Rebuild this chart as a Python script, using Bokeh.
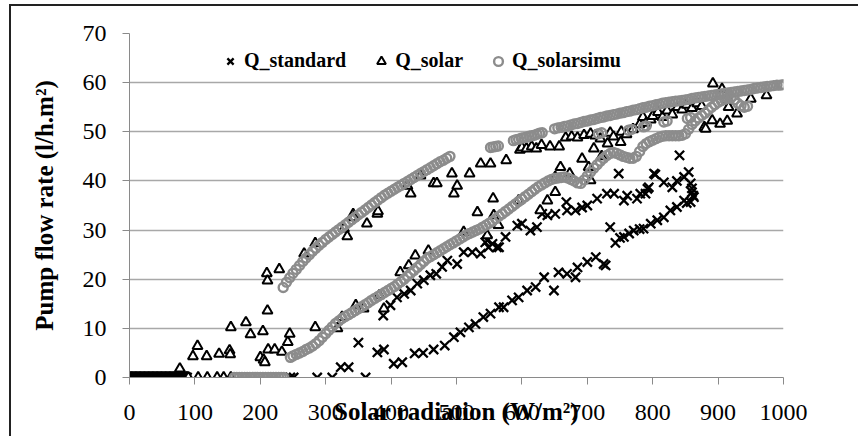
from bokeh.plotting import figure
from bokeh.models import Range1d, FixedTicker, Legend, LegendItem
from bokeh.layouts import column
from bokeh.embed import file_html
from bokeh.resources import INLINE

# ---------------- data ----------------
x_ticks = [0, 100, 200, 300, 400, 500, 600, 700, 800, 900, 1000]
y_ticks = [0, 10, 20, 30, 40, 50, 60, 70]

std_x = [0, 2, 4, 6, 8, 10, 12, 14, 16, 18, 20, 22, 24, 26, 28, 30, 32, 34, 36, 38, 40, 42,
         44, 46, 48, 50, 52, 54, 56, 58, 60, 62, 64, 66, 68, 70, 72, 74, 76, 78, 80, 82, 84, 86, 88,
         246, 251, 287, 310, 361,
         323, 335, 350, 379, 389, 404, 417, 436, 449, 465, 482, 496, 506, 519, 529, 541,
         552, 565, 572, 585, 595, 608, 621, 634, 649, 656, 669, 682, 685, 700, 713, 725,
         728, 735, 743, 750, 756, 764, 771, 780, 786, 797, 807, 817, 827, 837, 848, 852,
         858, 860, 862, 863,
         388, 399, 409, 420, 430, 440, 450, 460, 469, 478, 486, 501, 511, 524, 537, 544,
         547, 549, 555, 562, 565, 575, 593, 600, 613, 623, 631, 639, 651, 668, 669, 682,
         692, 700, 715, 730, 741, 748, 756, 761, 776, 781, 789, 792, 794, 802, 804, 817,
         830, 837, 841, 848, 855, 858, 860]
std_y = [0, 0, 0, 0, 0, 0, 0, 0, 0, 0, 0, 0, 0, 0, 0, 0, 0, 0, 0, 0, 0, 0,
         0, 0, 0, 0, 0, 0, 0, 0, 0, 0, 0, 0, 0, 0, 0, 0, 0, 0, 0, 0, 0, 0, 0,
         0, 0, 0, 0, 0,
         2.1, 2.1, 7.1, 5.1, 5.7, 2.8, 3.1, 4.9, 5.0, 5.7, 6.5, 8.2, 9.2, 10.2, 10.9, 12.3,
         13.0, 14.3, 14.3, 15.7, 16.3, 17.7, 18.4, 20.4, 17.7, 21.4, 21.1, 20.4, 22.4, 23.5, 24.5, 23.1,
         22.8, 30.6, 27.4, 28.4, 28.6, 29.3, 29.9, 30.2, 30.3, 31.3, 32.0, 32.6, 34.0, 34.7, 36.0, 35.5,
         35.7, 38.5, 37.0, 36.7,
         12.6, 14.7, 16.3, 17.0, 17.7, 19.1, 19.8, 20.8, 21.1, 22.5, 23.8, 23.1, 25.5, 25.5, 25.2, 27.5,
         27.9, 26.5, 27.2, 26.5, 26.5, 28.6, 30.9, 31.3, 29.9, 30.6, 33.3, 33.0, 33.3, 35.7, 34.0, 34.0,
         34.6, 35.0, 36.4, 37.4, 37.4, 41.5, 36.0, 37.0, 36.4, 37.4, 37.4, 38.4, 38.7, 41.5, 41.3, 39.7,
         38.7, 40.0, 45.2, 40.8, 41.8, 39.5, 37.7]

sol_x = [0, 2, 4, 6, 8, 10, 12, 14, 16, 18, 20, 22, 24, 26, 28, 30, 32, 34, 36, 38, 40, 42,
         44, 46, 48, 50, 52, 54, 56, 58, 60, 62, 64, 66, 68, 70, 72, 74, 76, 78, 80, 82, 84, 86, 88,
         90, 105, 119, 134, 144, 155,
         77, 97, 104, 118, 137, 153, 154, 155, 178, 185, 200, 204, 205, 207, 210, 211, 211,
         212, 222, 229, 233, 242, 245, 267, 284, 284, 318, 325, 328, 333, 342, 343, 346, 358,
         363, 379, 380, 382, 389, 414, 425, 427, 430, 437, 445, 457, 465, 470, 493, 496, 501,
         511, 520, 532, 537, 547, 552, 556, 557, 564, 576, 595, 597, 600, 607, 615, 622, 628,
         630, 639, 643, 651, 651, 657, 659, 667, 673, 676, 685, 692, 695, 702, 705, 705, 710,
         712, 720, 722, 731, 735, 740, 751, 752, 760, 770, 780, 785, 790, 797, 800, 808, 815,
         822, 830, 838, 845, 852, 860, 868, 875, 879, 881, 891, 892, 903, 906, 914, 916, 916,
         929, 950, 974]
sol_y = [0, 0, 0, 0, 0, 0, 0, 0, 0, 0, 0, 0, 0, 0, 0, 0, 0, 0, 0, 0, 0, 0,
         0, 0, 0, 0, 0, 0, 0, 0, 0, 0, 0, 0, 0, 0, 0, 0, 0, 0, 0, 0, 0, 0, 0,
         0, 0, 0, 0, 0, 0,
         1.8, 4.3, 6.4, 4.3, 4.8, 5.5, 4.7, 10.2, 11.2, 8.8, 4.1, 9.4, 3.6, 3.1, 21.2, 19.7, 13.6,
         5.7, 5.7, 22.0, 5.2, 7.2, 8.9, 25.2, 27.3, 10.2, 10.0, 12.3, 30.3, 28.7, 33.2, 32.6, 14.7, 14.0,
         31.3, 33.3, 33.8, 16.7, 14.0, 21.4, 39.0, 22.8, 37.4, 24.8, 41.1, 25.8, 39.5, 39.5, 41.5, 37.4, 39.0,
         29.6, 41.5, 33.6, 43.5, 28.9, 43.5, 36.4, 33.0, 31.0, 44.2, 36.0, 46.3, 46.8, 46.6, 47.0, 46.6, 34.0,
         47.3, 36.0, 47.0, 37.7, 40.8, 47.0, 42.8, 48.8, 41.5, 49.0, 48.8, 44.5, 49.3, 42.8, 40.1, 49.6, 46.6,
         49.2, 48.6, 45.0, 47.6, 49.8, 49.0, 47.9, 50.0, 49.5, 50.5, 51.5, 53.0, 51.8, 52.5, 53.2, 54.0, 53.0,
         54.3, 53.5, 55.0, 54.5, 55.5, 54.8, 55.8, 55.2, 50.9, 50.6, 52.3, 59.8, 51.6, 58.7, 52.2, 56.3, 55.0,
         53.7, 56.7, 57.4]

sim_x = [160, 164, 168, 172, 176, 180, 184, 188, 192, 196, 200, 204, 208, 212, 216, 220,
         224, 228, 232, 236,
         235, 240, 245, 250, 255, 260, 265, 270, 275, 280, 285, 290, 295, 300, 305, 310,
         315, 320, 325, 330, 335, 340, 345, 350, 355, 360, 365, 370, 375, 380, 385, 390,
         395, 400, 405, 410, 415, 420, 425, 430, 435, 440, 445, 450, 455, 460, 465, 470,
         475, 480, 485, 490,
         552, 556, 560, 564, 587, 591, 595, 599, 603, 607, 611, 615, 619, 623, 627, 631,
         650, 655, 660, 665, 670, 675, 680, 685, 690, 695, 700, 705, 710, 715, 720, 725,
         730, 735, 740, 745, 750, 755, 760, 765, 770, 775, 780, 785, 790, 795, 800, 805,
         810, 815, 820, 825, 830, 835, 840, 845, 850, 855, 860, 865, 870, 875, 880, 885,
         890, 895, 900, 905, 910, 915, 920, 925, 930, 935, 940, 945, 950, 955, 960, 965,
         970, 975, 980, 985, 990, 995, 1000,
         717, 722, 763, 768, 786, 790, 817, 822, 853, 858,
         246, 250, 255, 260, 265, 270, 275, 280, 285, 290, 295, 300, 305, 310, 315, 320,
         325, 330, 335, 340, 345, 350, 355, 360, 365, 370, 375, 380, 385, 390, 395, 400,
         405, 410, 415, 420, 425, 430, 435, 440, 445, 450, 455, 460, 465, 470, 475, 480,
         485, 490, 495, 500, 505, 510, 515, 520, 525, 530, 535, 540, 545, 550, 555, 560,
         565, 570, 575, 580, 585, 590, 595, 600, 605, 610, 615, 620, 625, 630, 635, 640,
         645, 650, 655, 660, 665, 670, 675, 680, 685, 690, 695, 700, 705, 710, 715, 720,
         725, 730, 735, 740, 745, 750, 755, 760, 765, 770, 775, 780, 785, 790, 795, 800,
         805, 810, 815, 820, 825, 830, 835, 840, 845, 850, 855, 860, 865, 870, 875, 880,
         885, 890, 895, 900, 905, 910, 915, 920, 925, 930, 935, 940, 945]
sim_y = [0, 0, 0, 0, 0, 0, 0, 0, 0, 0, 0, 0, 0, 0, 0, 0,
         0, 0, 0, 0,
         18.3, 19.4, 20.3, 21.2, 22.0, 22.8, 23.6, 24.3, 25.0, 25.7, 26.3, 26.9, 27.5, 28.1, 28.6, 29.1,
         29.6, 30.1, 30.6, 31.1, 31.6, 32.1, 32.6, 33.1, 33.6, 34.1, 34.6, 35.1, 35.6, 36.1, 36.6, 37.1,
         37.5, 37.9, 38.3, 38.7, 39.1, 39.5, 39.9, 40.3, 40.7, 41.1, 41.5, 41.9, 42.3, 42.7, 43.1, 43.5,
         43.9, 44.2, 44.6, 45.0,
         46.8, 46.9, 47.0, 47.1, 48.2, 48.4, 48.5, 48.7, 48.8, 48.9, 49.1, 49.2, 49.3, 49.5, 49.7, 49.8,
         50.6, 50.8, 50.9, 51.1, 51.2, 51.4, 51.6, 51.7, 51.9, 52.1, 52.2, 52.4, 52.5, 52.7, 52.9, 53.0,
         53.2, 53.3, 53.5, 53.6, 53.8, 53.9, 54.1, 54.2, 54.4, 54.5, 54.7, 54.9, 55.0, 55.2, 55.3, 55.5,
         55.6, 55.8, 55.9, 56.0, 56.1, 56.2, 56.3, 56.4, 56.5, 56.6, 56.8, 56.9, 57.0, 57.1, 57.2, 57.3,
         57.4, 57.5, 57.6, 57.7, 57.8, 57.9, 58.0, 58.1, 58.2, 58.3, 58.4, 58.5, 58.6, 58.8, 58.9, 59.0,
         59.1, 59.2, 59.3, 59.4, 59.5, 59.5, 59.6,
         49.6, 49.8, 50.3, 50.5, 51.0, 51.2, 52.0, 52.2, 52.7, 52.9,
         4.1, 4.4, 4.7, 5.0, 5.3, 5.7, 6.0, 6.4, 6.9, 7.5, 8.2, 8.9, 9.6, 10.3, 11.0, 11.5,
         12.0, 12.4, 12.8, 13.2, 13.6, 14.0, 14.4, 14.8, 15.2, 15.7, 16.1, 16.5, 16.9, 17.3, 17.7, 18.1,
         18.5, 19.0, 19.5, 20.0, 20.6, 21.2, 21.8, 22.4, 23.0, 23.6, 24.2, 24.6, 25.0, 25.4, 25.8, 26.2,
         26.6, 27.0, 27.4, 27.8, 28.2, 28.6, 29.0, 29.3, 29.6, 29.9, 30.2, 30.6, 31.0, 31.4, 31.8, 32.3,
         32.8, 33.3, 33.8, 34.3, 34.8, 35.3, 35.8, 36.3, 36.8, 37.3, 37.8, 38.3, 38.8, 39.2, 39.6, 40.0,
         40.3, 40.5, 40.6, 40.7, 40.8, 40.6, 40.3, 40.0, 39.6, 39.5, 40.2, 41.0, 41.8, 42.6, 43.3, 44.0,
         44.6, 45.2, 45.6, 45.8, 45.6, 45.3, 45.0, 44.8, 44.6, 44.6, 45.0, 46.0, 47.0, 47.6, 48.0, 48.3,
         48.6, 48.9, 49.1, 49.2, 49.2, 49.2, 49.2, 49.2, 49.3, 49.6, 50.5, 51.5, 52.2, 52.8, 53.3, 53.8,
         54.4, 55.0, 55.5, 56.0, 56.3, 56.6, 56.8, 57.0, 56.5, 55.8, 55.3, 55.0, 55.2]

series_names = ["Q_standard", "Q_solar", "Q_solarsimu"]
x_label = "Solar radiation (W/m²)"
y_label = "Pump flow rate (l/h.m²)"

# ---------------- figure ----------------
FONT = "Liberation Serif"
p = figure(frame_width=654, frame_height=344,
           x_range=Range1d(0, 1000), y_range=Range1d(0, 70),
           output_backend="svg", toolbar_location=None,
           min_border_left=118, min_border_right=75,
           min_border_top=27, min_border_bottom=59)
p.outline_line_color = None
p.background_fill_color = "white"
p.border_fill_color = "white"

p.xaxis.ticker = FixedTicker(ticks=x_ticks)
p.yaxis.ticker = FixedTicker(ticks=y_ticks)
p.xgrid.grid_line_color = None
p.ygrid.grid_line_color = "#a8a8a8"
p.ygrid.grid_line_width = 1.3

for ax in (p.xaxis, p.yaxis):
    ax.axis_line_color = "#8a8a8a"
    ax.major_tick_line_color = "#8a8a8a"
    ax.major_tick_out = 7
    ax.major_tick_in = 0
    ax.minor_tick_line_color = None
    ax.major_label_text_font = FONT
    ax.major_label_text_font_size = "24px"
    ax.major_label_text_color = "black"
    ax.axis_label_text_font = FONT
    ax.axis_label_text_font_style = "bold"
    ax.axis_label_text_font_size = "25px"
    ax.axis_label_text_color = "black"

p.xaxis.major_label_standoff = 20
p.yaxis.major_label_standoff = 16
p.xaxis.axis_label = x_label
p.yaxis.axis_label = y_label
p.xaxis.axis_label_standoff = -25
p.yaxis.axis_label_standoff = 22

r_std = p.scatter(std_x, std_y, marker="x", size=13, line_color="black", line_width=2.3)
r_sol = p.scatter(sol_x, sol_y, marker="triangle", size=10, line_color="black",
                  fill_color="white", line_width=2)
r_sim = p.scatter(sim_x, sim_y, marker="circle", size=9, line_color="#8c8c8c",
                  fill_alpha=0, line_width=2.4)

legend = Legend(items=[LegendItem(label=series_names[0], renderers=[r_std]),
                       LegendItem(label=series_names[1], renderers=[r_sol]),
                       LegendItem(label=series_names[2], renderers=[r_sim])],
                orientation="horizontal", location=(90, 305),
                glyph_width=22, glyph_height=22, label_height=22, label_width=0,
                label_standoff=3, spacing=24, padding=0, margin=0,
                border_line_color=None, background_fill_alpha=0,
                label_text_font=FONT, label_text_font_style="bold",
                label_text_font_size="20px", label_text_color="black")
p.add_layout(legend, "center")

page = column(p, styles={"margin-left": "9px", "margin-top": "4px",
                         "border-left": "2px solid #222", "border-top": "2px solid #222"})
open("out.html", "w").write(file_html(page, INLINE))
